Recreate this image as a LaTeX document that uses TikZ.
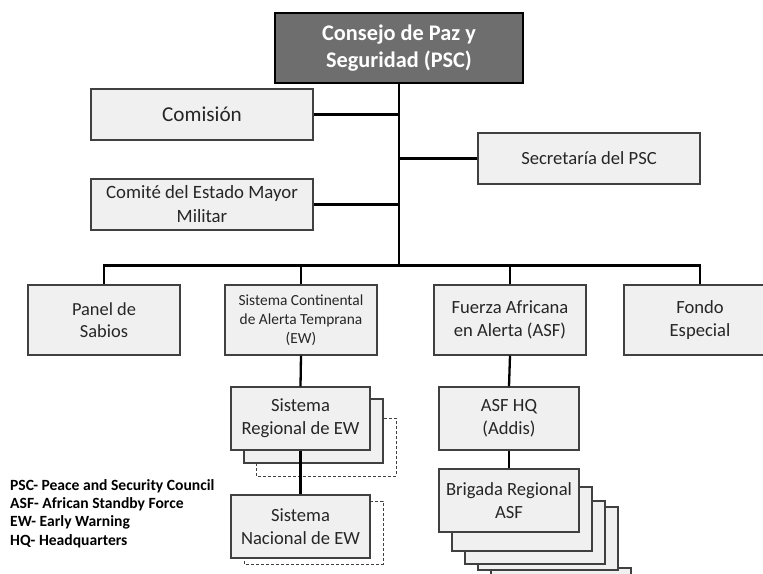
\documentclass[tikz,border=0pt]{standalone}
\usepackage{fontspec}
\setmainfont{Carlito}
\definecolor{boxfill}{HTML}{F0F0F0}
\definecolor{boxline}{HTML}{404040}
\definecolor{txt}{HTML}{262626}
\definecolor{darkfill}{HTML}{6E6E6E}
\begin{document}
\begin{tikzpicture}[x=1pt,y=-1pt,
  lbox/.style={draw=boxline, line width=1.2pt, fill=boxfill, text=txt, align=center, inner sep=1pt,
    font=\fontsize{18.6}{22.7}\selectfont},
  backbox/.style={draw=boxline, line width=1.2pt, fill=boxfill},
  dashbox/.style={draw=boxline, line width=1pt, fill=white, dashed, dash pattern=on 3pt off 2pt},
  conn/.style={line width=2.3pt, black}
]
\useasboundingbox (0,0) rectangle (763,573);
% top box
\node[draw=black, line width=1.6pt, fill=darkfill, text=white, align=center,
  minimum width=248pt, minimum height=70pt, inner sep=0pt,
  font=\bfseries\fontsize{22.3}{27}\selectfont] (psc) at (399,48) {Consejo de Paz y\\Seguridad (PSC)};
\node[lbox, minimum width=222pt, minimum height=51pt, font=\fontsize{21.2}{25}\selectfont] (com) at (202,114.5) {Comisión};
\node[lbox, minimum width=222pt, minimum height=51pt] (sec) at (589,158.5) {Secretaría del PSC};
\node[lbox, minimum width=222pt, minimum height=51pt, font=\fontsize{18.8}{24}\selectfont] (cem) at (202,204.5) {Comité del Estado Mayor\\Militar};
% second row
\node[lbox, minimum width=152pt, minimum height=70pt, font=\fontsize{18.4}{22.3}\selectfont] (pan) at (104,320) {Panel de\\Sabios};
\node[lbox, minimum width=152pt, minimum height=70pt, font=\fontsize{15.4}{19}\selectfont] (cont) at (301,320) {Sistema Continental\\de Alerta Temprana\\(EW)};
\node[lbox, minimum width=152pt, minimum height=70pt, font=\fontsize{18.6}{22.5}\selectfont] (fue) at (510,320) {Fuerza Africana\\en Alerta (ASF)};
\node[lbox, minimum width=152pt, minimum height=70pt, font=\fontsize{18.6}{22.5}\selectfont] (fon) at (700,320) {Fondo\\Especial};
% EW stacks
\draw[dashbox] (256,418) rectangle (396,476);
\draw[backbox] (244,399) rectangle (383,463);
\node[lbox, minimum width=139pt, minimum height=63pt] (reg) at (300.5,418.5) {Sistema\\Regional de EW};
\draw[dashbox] (244,501) rectangle (383,564);
\node[lbox, minimum width=139pt, minimum height=63pt] (nac) at (300.5,526.5) {Sistema\\Nacional de EW};
% ASF stacks
\node[lbox, minimum width=140pt, minimum height=63pt] (hq) at (509,418.5) {ASF HQ\\(Addis)};
\draw[backbox] (491,568) rectangle (631,631);
\draw[backbox] (478,507) rectangle (618,570);
\draw[backbox] (465,501) rectangle (605,564);
\draw[backbox] (452,487) rectangle (592,551);
\node[lbox, minimum width=140pt, minimum height=63pt] (bri) at (509,500.5) {Brigada Regional\\ASF};
% connectors
\coordinate (bar) at (399,265.5);
\draw[conn] (psc.south) -- (bar);
\draw[conn] (com.east) -- (com.east -| psc.south);
\draw[conn] (sec.west) -- (sec.west -| psc.south);
\draw[conn] (cem.east) -- (cem.east -| psc.south);
\draw[conn] (pan.north) -- (pan.north |- bar) -- (fon.north |- bar) -- (fon.north);
\draw[conn] (cont.north) -- (cont.north |- bar);
\draw[conn] (fue.north) -- (fue.north |- bar);
\draw[conn] (cont.south) -- (reg.north);
\draw[conn] (reg.south) -- (nac.north);
\draw[conn] (fue.south) -- (hq.north);
\draw[conn] (hq.south) -- (bri.north);
% legend
\node[anchor=north west, align=left, inner sep=0pt, text=black,
  font=\bfseries\fontsize{15.6}{18.3}\selectfont] (leg) at (10,479) {PSC- Peace and Security Council\\ASF- African Standby Force\\EW- Early Warning\\HQ- Headquarters};
\end{tikzpicture}
\end{document}
